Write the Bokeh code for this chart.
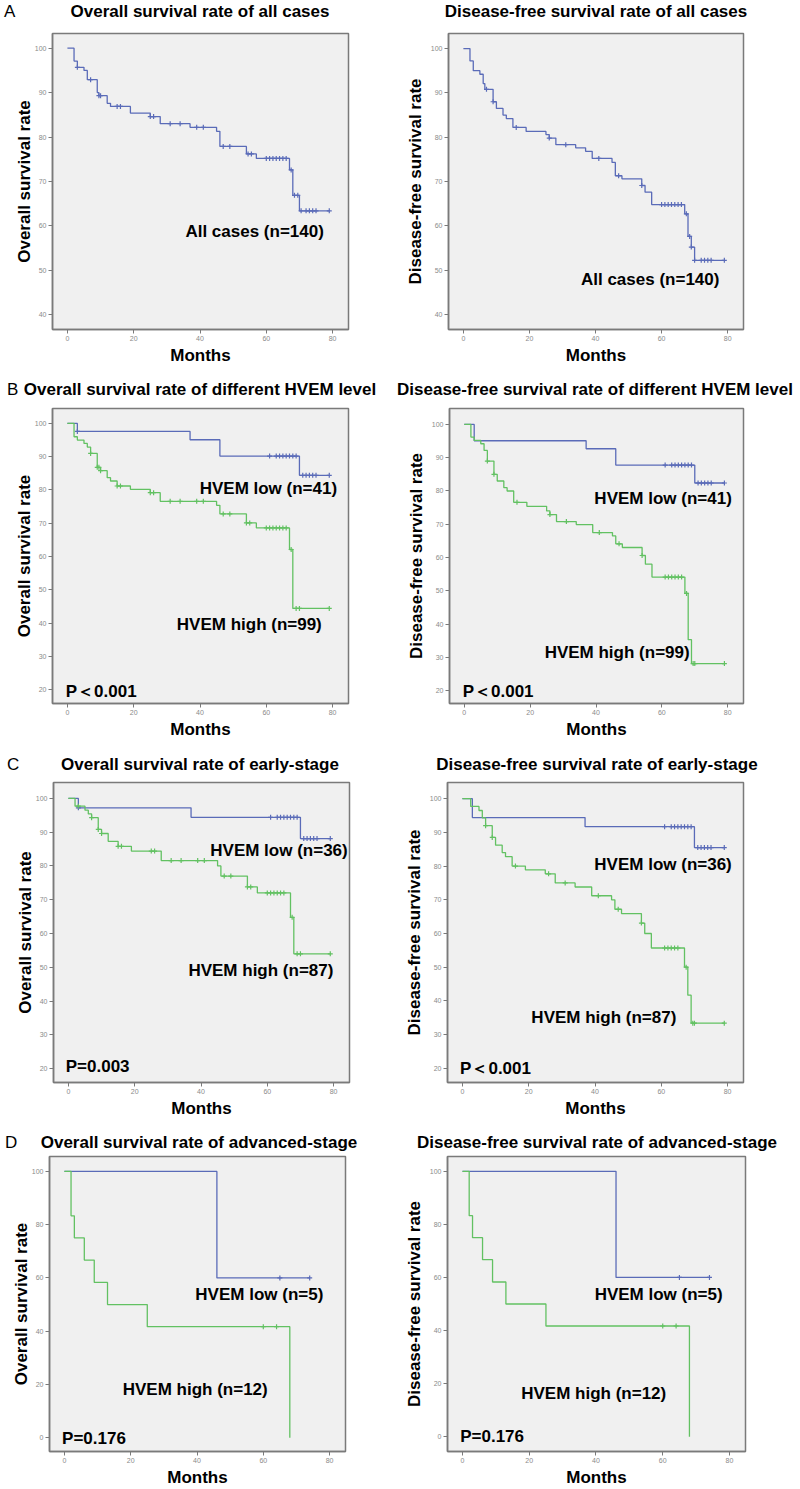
import math
from bokeh.plotting import figure
from bokeh.layouts import column, row
from bokeh.models import Label, FixedTicker, Range1d, Div
from bokeh.embed import file_html
from bokeh.resources import INLINE

# ---------------- data (months, survival %) ----------------
os_all_t = [0, 2, 3, 5, 6, 9, 9.5, 12, 13, 19, 25, 28, 37, 45, 46, 54, 57, 67, 68, 70]
os_all_s = [100, 97.1, 95.7, 95.0, 92.9, 90.0, 89.3, 87.6, 86.9, 85.4, 84.6, 83.0, 82.2, 81.3, 77.9, 76.2, 75.2, 72.6, 66.9, 63.4]
os_all_c = [3, 7, 9.5, 10, 15, 16, 25, 26, 31, 34, 39, 41, 47, 49, 54.5, 55.5, 60, 61, 62, 63, 64, 65, 66,
            67.5, 68.5, 69.5, 70.5, 72, 73, 74, 75, 79]

dfs_all_t = [0, 2, 3, 5, 6, 6.5, 9, 10, 12, 13, 15, 19, 25, 26, 28, 34, 37, 39, 45, 46, 48, 54, 55, 57, 67, 68, 69, 70]
dfs_all_s = [100, 97.2, 95.0, 94.2, 92.1, 90.8, 88.0, 86.5, 85.0, 84.2, 82.2, 81.3, 80.6, 79.8, 78.3, 77.6, 76.8,
             75.2, 74.3, 71.3, 70.6, 69.1, 67.6, 64.8, 62.7, 57.6, 55.2, 52.2]
dfs_all_c = [7, 9, 16, 26, 31, 41, 47, 54, 60, 61, 62, 63, 64, 65, 66, 67.5, 68.5, 69, 70, 72, 73, 74, 75, 79]

os_low_t = [0, 3, 37, 46, 70]
os_low_s = [100, 97.6, 95.1, 90.2, 84.4]
os_low_c = [3, 61, 63, 64, 65, 66, 67, 68, 69, 71, 72, 73, 74, 75, 79]
os_high_t = [0, 2, 3, 5, 6, 7, 9, 10, 12, 13, 15, 19, 25, 28, 45, 46, 54, 57, 67, 68]
os_high_s = [100, 96.0, 95.0, 94.0, 92.9, 91.0, 86.8, 85.8, 83.7, 82.7, 81.2, 80.2, 79.2, 76.6, 75.4, 72.8, 70.1,
             68.6, 62.1, 44.4]
os_high_c = [7, 9, 9.5, 10, 15, 16, 25, 26, 31, 34, 39, 41, 47, 49, 54, 55, 60, 61, 62, 63, 64, 65, 66, 67.5, 69, 70, 79]

dfs_low_t = [0, 3, 37, 46, 70]
dfs_low_s = [100, 95.1, 92.7, 87.8, 82.4]
dfs_low_c = [61, 63, 64, 65, 66, 67, 68, 69, 71, 72, 73, 74, 75, 79]
dfs_high_t = [0, 2, 3, 5, 6, 7, 9, 10, 12, 13, 15, 19, 25, 26, 28, 34, 39, 45, 46, 48, 54, 55, 57, 67, 68, 69]
dfs_high_s = [100, 96.2, 95.2, 94.2, 92.2, 89.0, 85.0, 83.0, 81.0, 80.0, 76.6, 75.4, 74.0, 72.9, 70.8, 69.9, 67.5,
              66.5, 64.1, 63.0, 60.6, 58.0, 54.1, 49.2, 35.3, 28.1]
dfs_high_c = [7, 9, 16, 26, 31, 41, 47, 54, 61, 62, 63, 64, 65, 66, 67.5, 69.5, 70, 79]

os_early_low_t = [0, 3, 37, 70]
os_early_low_s = [100, 97.2, 94.4, 88.1]
os_early_low_c = [3, 61, 63, 64, 65, 66, 67, 68, 69, 71, 72, 73, 74, 75, 79]
os_early_high_t = [0, 2, 5, 6, 7, 9, 10, 12, 15, 19, 28, 45, 46, 54, 57, 67, 68]
os_early_high_s = [100, 97.7, 96.5, 95.4, 94.3, 90.8, 89.6, 87.3, 85.8, 84.4, 81.6, 80.0, 77.0, 73.8, 72.0, 64.8, 54.0]
os_early_high_c = [3, 7, 9, 10, 15, 16, 25, 26, 31, 34, 39, 41, 47, 49, 54, 55, 60, 61, 62, 63, 64, 65, 67.5, 69, 70, 79]

dfs_early_low_t = [0, 3, 37, 70]
dfs_early_low_s = [100, 94.4, 91.7, 85.5]
dfs_early_low_c = [61, 63, 64, 65, 66, 67, 68, 69, 71, 72, 73, 74, 75, 79]
dfs_early_high_t = [0, 2.5, 5, 6, 7, 9, 10, 12, 13, 15, 19, 25, 28, 34, 39, 45, 46, 48, 54, 55, 57, 67, 68, 69]
dfs_early_high_s = [100, 97.7, 96.5, 94.3, 92.0, 88.5, 86.2, 84.0, 82.8, 80.0, 78.9, 77.7, 75.0, 73.8, 71.2, 70.0,
                    67.2, 65.9, 63.1, 60.0, 55.7, 50.0, 41.7, 33.4]
dfs_early_high_c = [7, 9, 16, 26, 31, 41, 47, 54, 61, 62, 63, 64, 65, 67.5, 69.5, 70, 79]

os_adv_low_t = [0, 46]
os_adv_low_s = [100, 60]
os_adv_low_c = [65, 74]
os_adv_high_t = [0, 2, 3, 6, 9, 13, 25, 68]
os_adv_high_s = [100, 83.3, 75.0, 66.7, 58.3, 50.0, 41.7, 0]
os_adv_high_c = [60, 64]

dfs_adv_low_t = [0, 46]
dfs_adv_low_s = [100, 60]
dfs_adv_low_c = [65, 74]
dfs_adv_high_t = [0, 2, 3, 6, 9, 13, 25, 68]
dfs_adv_high_s = [100, 83.3, 75.0, 66.7, 58.3, 50.0, 41.7, 0]
dfs_adv_high_c = [60, 64]

x_ticks = [0, 20, 40, 60, 80]

titles_left = ["Overall survival rate of all cases", "Overall survival rate of different HVEM level",
               "Overall survival rate of early-stage", "Overall survival rate of advanced-stage"]
titles_right = ["Disease-free survival rate of all cases", "Disease-free survival rate of different HVEM level",
                "Disease-free survival rate of early-stage", "Disease-free survival rate of advanced-stage"]
letters = ["A", "B", "C", "D"]

# ---------------- styles ----------------
BLUE = "#5a6bb8"
GREEN = "#62c162"
FONT = "Liberation Sans"
BG = "#f0f0f0"
FRAME = "#7a7a7a"


def step_value(t, s, c):
    v = s[0]
    for ti, si in zip(t, s):
        if ti <= c:
            v = si
    return v


def add_curve(p, t, s, c, color):
    xs = list(t)
    ys = list(s)
    if c and max(c) > xs[-1]:
        xs.append(max(c))
        ys.append(ys[-1])
    p.step(xs, ys, mode="after", line_color=color, line_width=1.3)
    cy = [step_value(t, s, ci) for ci in c]
    p.scatter(c, cy, marker="cross", size=5, line_color=color, line_width=1.2)


def header(height, letter, letter_left, letter_cy, tl, tl_cx, tl_cy, tr, tr_cx, tr_cy):
    def box(txt, left, width, cy, align, size, weight):
        return (f'<div style="position:absolute;left:{left}px;top:{cy - 12}px;width:{width}px;height:24px;'
                f'line-height:24px;text-align:{align};white-space:nowrap;font-size:{size}px;'
                f'font-weight:{weight};color:#000;">{txt}</div>')
    inner = (box(letter, letter_left, 30, letter_cy, "left", 17, "normal")
             + box(tl, tl_cx - 195, 390, tl_cy, "center", 17, "bold")
             + box(tr, tr_cx - 200, 400, tr_cy, "center", 17, "bold"))
    html = (f'<div style="position:relative;width:800px;height:{height}px;margin:0;padding:0;'
            f'font-family:\'Liberation Sans\',Arial,sans-serif;">{inner}</div>')
    return Div(text=html, width=800, height=height, margin=(0, 0, 0, 0))


def panel(W, H, bl, br, bt, bb, ylabel, yr, yticks, curves, texts, ylab_standoff=1):
    p = figure(width=W, height=H, x_range=Range1d(-4.5, 84.8), y_range=Range1d(*yr),
               output_backend="svg", toolbar_location=None, title=None,
               min_border_left=bl, min_border_right=br, min_border_top=bt, min_border_bottom=bb,
               background_fill_color=BG, border_fill_color="white")
    p.outline_line_color = FRAME
    p.outline_line_width = 1.5
    p.grid.visible = False
    for ax in (p.xaxis[0], p.yaxis[0]):
        ax.axis_line_color = FRAME
        ax.axis_line_width = 1.5
        ax.major_tick_line_color = FRAME
        ax.major_tick_out = 4
        ax.major_tick_in = 0
        ax.minor_tick_line_color = None
        ax.major_label_text_font = FONT
        ax.major_label_text_font_size = "7px"
        ax.major_label_text_color = "#8a8a8a"
        ax.major_label_standoff = 2
        ax.axis_label_text_font = FONT
        ax.axis_label_text_font_size = "17px"
        ax.axis_label_text_font_style = "bold"
        ax.axis_label_text_color = "black"
    p.xaxis.ticker = FixedTicker(ticks=x_ticks)
    p.yaxis.ticker = FixedTicker(ticks=yticks)
    p.xaxis.axis_label = "Months"
    p.xaxis.axis_label_standoff = 2
    p.yaxis.axis_label = ylabel
    p.yaxis.axis_label_standoff = ylab_standoff
    p.yaxis.major_label_orientation = "horizontal"

    for (t, s, c, color) in curves:
        add_curve(p, t, s, c, color)
    for (tx, ty, txt) in texts:
        p.add_layout(Label(x=tx, y=ty, text=txt, text_font=FONT, text_font_size="17px",
                           text_font_style="bold", text_baseline="middle", text_align="left",
                           text_color="black"))
    return p


# Row A  (header 0..25, plots 25..370)
hA = header(25, letters[0], 4, 12, titles_left[0], 200, 12, titles_right[0], 596, 12)
pA1 = panel(400, 345, 52, 52, 8, 41, "Overall survival rate",
            (36.7, 103.3), [40, 50, 60, 70, 80, 90, 100],
            [(os_all_t, os_all_s, os_all_c, BLUE)],
            [(35.6, 58.7, "All cases (n=140)")], ylab_standoff=-2)
pA2 = panel(400, 345, 48, 57, 8, 41, "Disease-free survival rate",
            (36.6, 103.4), [40, 50, 60, 70, 80, 90, 100],
            [(dfs_all_t, dfs_all_s, dfs_all_c, BLUE)],
            [(35.6, 47.9, "All cases (n=140)")], ylab_standoff=3)

# Row B  (header 370..400, plots 400..750)
hB = header(30, letters[1], 7, 20, titles_left[1], 200, 20, titles_right[1], 595, 20)
pB1 = panel(396, 350, 52, 48, 7, 47, "Overall survival rate",
            (15.8, 104.5), [20, 30, 40, 50, 60, 70, 80, 90, 100],
            [(os_low_t, os_low_s, os_low_c, BLUE), (os_high_t, os_high_s, os_high_c, GREEN)],
            [(39.9, 80.3, "HVEM low (n=41)"), (33.0, 39.7, "HVEM high (n=99)"), (-0.5, 19.5, "P＜0.001")],
            ylab_standoff=-2)
pB2 = panel(404, 350, 53, 57, 8, 47, "Disease-free survival rate",
            (16.1, 104.8), [20, 30, 40, 50, 60, 70, 80, 90, 100],
            [(dfs_low_t, dfs_low_s, dfs_low_c, BLUE), (dfs_high_t, dfs_high_s, dfs_high_c, GREEN)],
            [(39.5, 77.6, "HVEM low (n=41)"), (24.4, 31.5, "HVEM high (n=99)"), (-0.5, 19.8, "P＜0.001")],
            ylab_standoff=3)

# Row C  (header 750..775, plots 775..1120)
hC = header(25, letters[2], 7, 15, titles_left[2], 200, 15, titles_right[2], 597, 15)
pC1 = panel(400, 345, 53, 51, 7, 38, "Overall survival rate",
            (15.9, 104.7), [20, 30, 40, 50, 60, 70, 80, 90, 100],
            [(os_early_low_t, os_early_low_s, os_early_low_c, BLUE),
             (os_early_high_t, os_early_high_s, os_early_high_c, GREEN)],
            [(42.8, 84.7, "HVEM low (n=36)"), (36.2, 49.1, "HVEM high (n=87)"), (-0.8, 20.5, "P=0.003")],
            ylab_standoff=-2)
pC2 = panel(400, 345, 47, 57, 7, 38, "Disease-free survival rate",
            (15.8, 104.8), [20, 30, 40, 50, 60, 70, 80, 90, 100],
            [(dfs_early_low_t, dfs_early_low_s, dfs_early_low_c, BLUE),
             (dfs_early_high_t, dfs_early_high_s, dfs_early_high_c, GREEN)],
            [(39.8, 80.4, "HVEM low (n=36)"), (20.8, 35.2, "HVEM high (n=87)"), (-0.7, 20.0, "P＜0.001")],
            ylab_standoff=3)

# Row D  (header 1120..1152, plots 1152..1489)
hD = header(32, letters[3], 5, 23, titles_left[3], 199, 23, titles_right[3], 597, 23)
pD1 = panel(400, 337, 49, 55, 4, 37, "Overall survival rate",
            (-5.2, 105.6), [0, 20, 40, 60, 80, 100],
            [(os_adv_low_t, os_adv_low_s, os_adv_low_c, BLUE),
             (os_adv_high_t, os_adv_high_s, os_adv_high_c, GREEN)],
            [(39.5, 53.75, "HVEM low (n=5)"), (17.6, 18.25, "HVEM high (n=12)"), (-0.7, -0.25, "P=0.176")],
            ylab_standoff=-2)
pD2 = panel(400, 337, 47, 55, 3, 36, "Disease-free survival rate",
            (-5.6, 105.6), [0, 20, 40, 60, 80, 100],
            [(dfs_adv_low_t, dfs_adv_low_s, dfs_adv_low_c, BLUE),
             (dfs_adv_high_t, dfs_adv_high_s, dfs_adv_high_c, GREEN)],
            [(39.6, 53.7, "HVEM low (n=5)"), (17.6, 16.2, "HVEM high (n=12)"), (-0.7, 0.1, "P=0.176")],
            ylab_standoff=3)

layout = column(hA, row(pA1, pA2), hB, row(pB1, pB2), hC, row(pC1, pC2), hD, row(pD1, pD2))

with open("out.html", "w") as f:
    f.write(file_html(layout, INLINE, "Survival curves"))
